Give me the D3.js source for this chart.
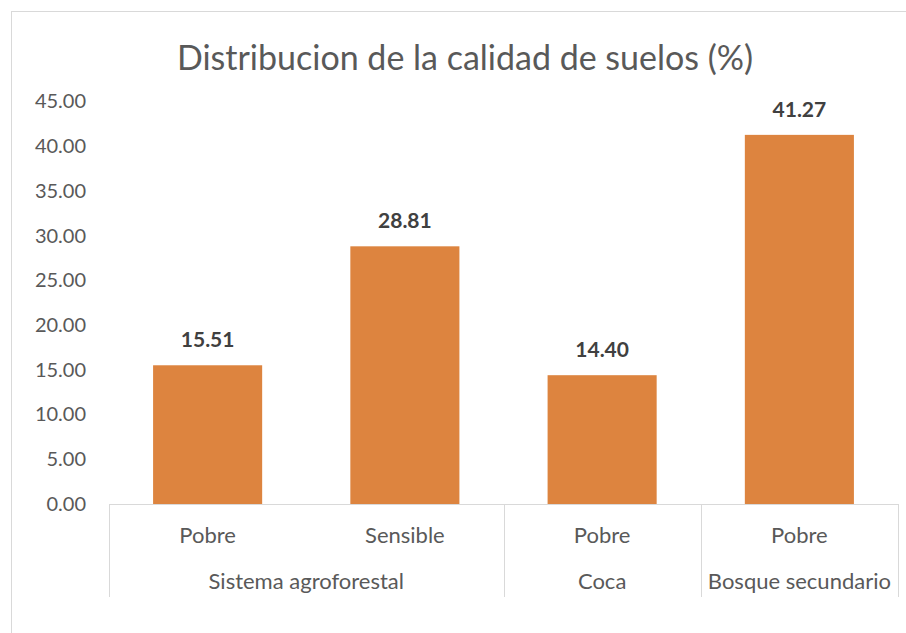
<!DOCTYPE html>
<html>
<head>
<meta charset="utf-8">
<script src="https://cdn.jsdelivr.net/npm/d3@7"></script>
<style>
    html, body { margin: 0; padding: 0; background: #fff; }
    #chart { width: 906px; height: 633px; }
    text { font-family: Lato, "Open Sans", sans-serif; }
</style>
</head>
<body>
<div id="chart"></div>
<script>
const groups = ["Sistema agroforestal", "Sistema agroforestal", "Coca", "Bosque secundario"];
const subCategories = ["Pobre", "Sensible", "Pobre", "Pobre"];
const values = [15.51, 28.81, 14.40, 41.27];
const yTicks = [0, 5, 10, 15, 20, 25, 30, 35, 40, 45];
const title = "Distribucion de la calidad de suelos (%)";

(function () {
    "use strict";

    const width = 906;
    const height = 633;
    const plot = { left: 109, right: 898, top: 101.5, bottom: 504 };

    const svg = d3.select("#chart").append("svg")
        .attr("width", width)
        .attr("height", height);

    // outer chart frame (runs off the window on the right and bottom)
    svg.append("rect")
        .attr("x", 11.5)
        .attr("y", 11.5)
        .attr("width", width)
        .attr("height", height)
        .attr("fill", "none")
        .attr("stroke", "#d9d9d9");

    svg.append("text")
        .attr("x", 465)
        .attr("y", 70)
        .attr("text-anchor", "middle")
        .attr("fill", "#595959")
        .style("font-size", "34px")
        .text(title);

    const xScale = d3.scaleBand()
        .domain(d3.range(values.length))
        .range([plot.left, plot.right])
        .paddingInner(0.447)
        .paddingOuter(0.2235);

    const yScale = d3.scaleLinear()
        .domain([0, 45])
        .range([plot.bottom, plot.top]);

    const yAxis = d3.axisLeft(yScale)
        .tickValues(yTicks)
        .tickFormat(d3.format(".2f"))
        .tickSize(0)
        .tickPadding(23);

    const yAxisGroup = svg.append("g")
        .attr("transform", `translate(${plot.left},0)`)
        .call(yAxis);

    yAxisGroup.select(".domain").remove();
    yAxisGroup.selectAll(".tick text")
        .attr("fill", "#595959")
        .style("font-family", "Lato, sans-serif")
        .style("font-size", "20px");

    // bars
    svg.append("g")
        .selectAll("rect")
        .data(values)
        .enter()
        .append("rect")
        .attr("x", (d, i) => xScale(i))
        .attr("y", d => yScale(d))
        .attr("width", xScale.bandwidth())
        .attr("height", d => yScale(0) - yScale(d))
        .attr("fill", "#dd843f");

    // data labels
    svg.append("g")
        .selectAll("text")
        .data(values)
        .enter()
        .append("text")
        .attr("x", (d, i) => xScale(i) + xScale.bandwidth() / 2)
        .attr("y", d => yScale(d) - 18)
        .attr("text-anchor", "middle")
        .attr("fill", "#404040")
        .style("font-size", "21px")
        .style("font-weight", "bold")
        .text(d => d3.format(".2f")(d));

    // category axis
    const axis = svg.append("g")
        .attr("stroke", "#d9d9d9")
        .attr("fill", "none");

    axis.append("line")
        .attr("x1", plot.left)
        .attr("x2", plot.right)
        .attr("y1", yScale(0) + 0.5)
        .attr("y2", yScale(0) + 0.5);

    const step = xScale.step();
    const half = step * xScale.paddingInner() / 2;

    // group spans
    const spans = [];
    groups.forEach((g, i) => {
        const last = spans[spans.length - 1];
        if (last && last.name === g) {
            last.end = i;
        } else {
            spans.push({ name: g, start: i, end: i });
        }
    });

    const edges = [xScale(0) - half];
    spans.forEach(s => edges.push(xScale(s.end) + xScale.bandwidth() + half));

    axis.selectAll(".sep")
        .data(edges)
        .enter()
        .append("line")
        .attr("x1", d => Math.round(d) + 0.5)
        .attr("x2", d => Math.round(d) + 0.5)
        .attr("y1", yScale(0))
        .attr("y2", 597);

    svg.append("g")
        .selectAll("text")
        .data(subCategories)
        .enter()
        .append("text")
        .attr("x", (d, i) => xScale(i) + xScale.bandwidth() / 2)
        .attr("y", 543)
        .attr("text-anchor", "middle")
        .attr("fill", "#595959")
        .style("font-size", "22px")
        .text(d => d);

    svg.append("g")
        .selectAll("text")
        .data(spans)
        .enter()
        .append("text")
        .attr("x", s => (xScale(s.start) + xScale(s.end) + xScale.bandwidth()) / 2)
        .attr("y", 589)
        .attr("text-anchor", "middle")
        .attr("fill", "#595959")
        .style("font-size", "22px")
        .text(s => s.name);
}());
</script>
</body>
</html>
